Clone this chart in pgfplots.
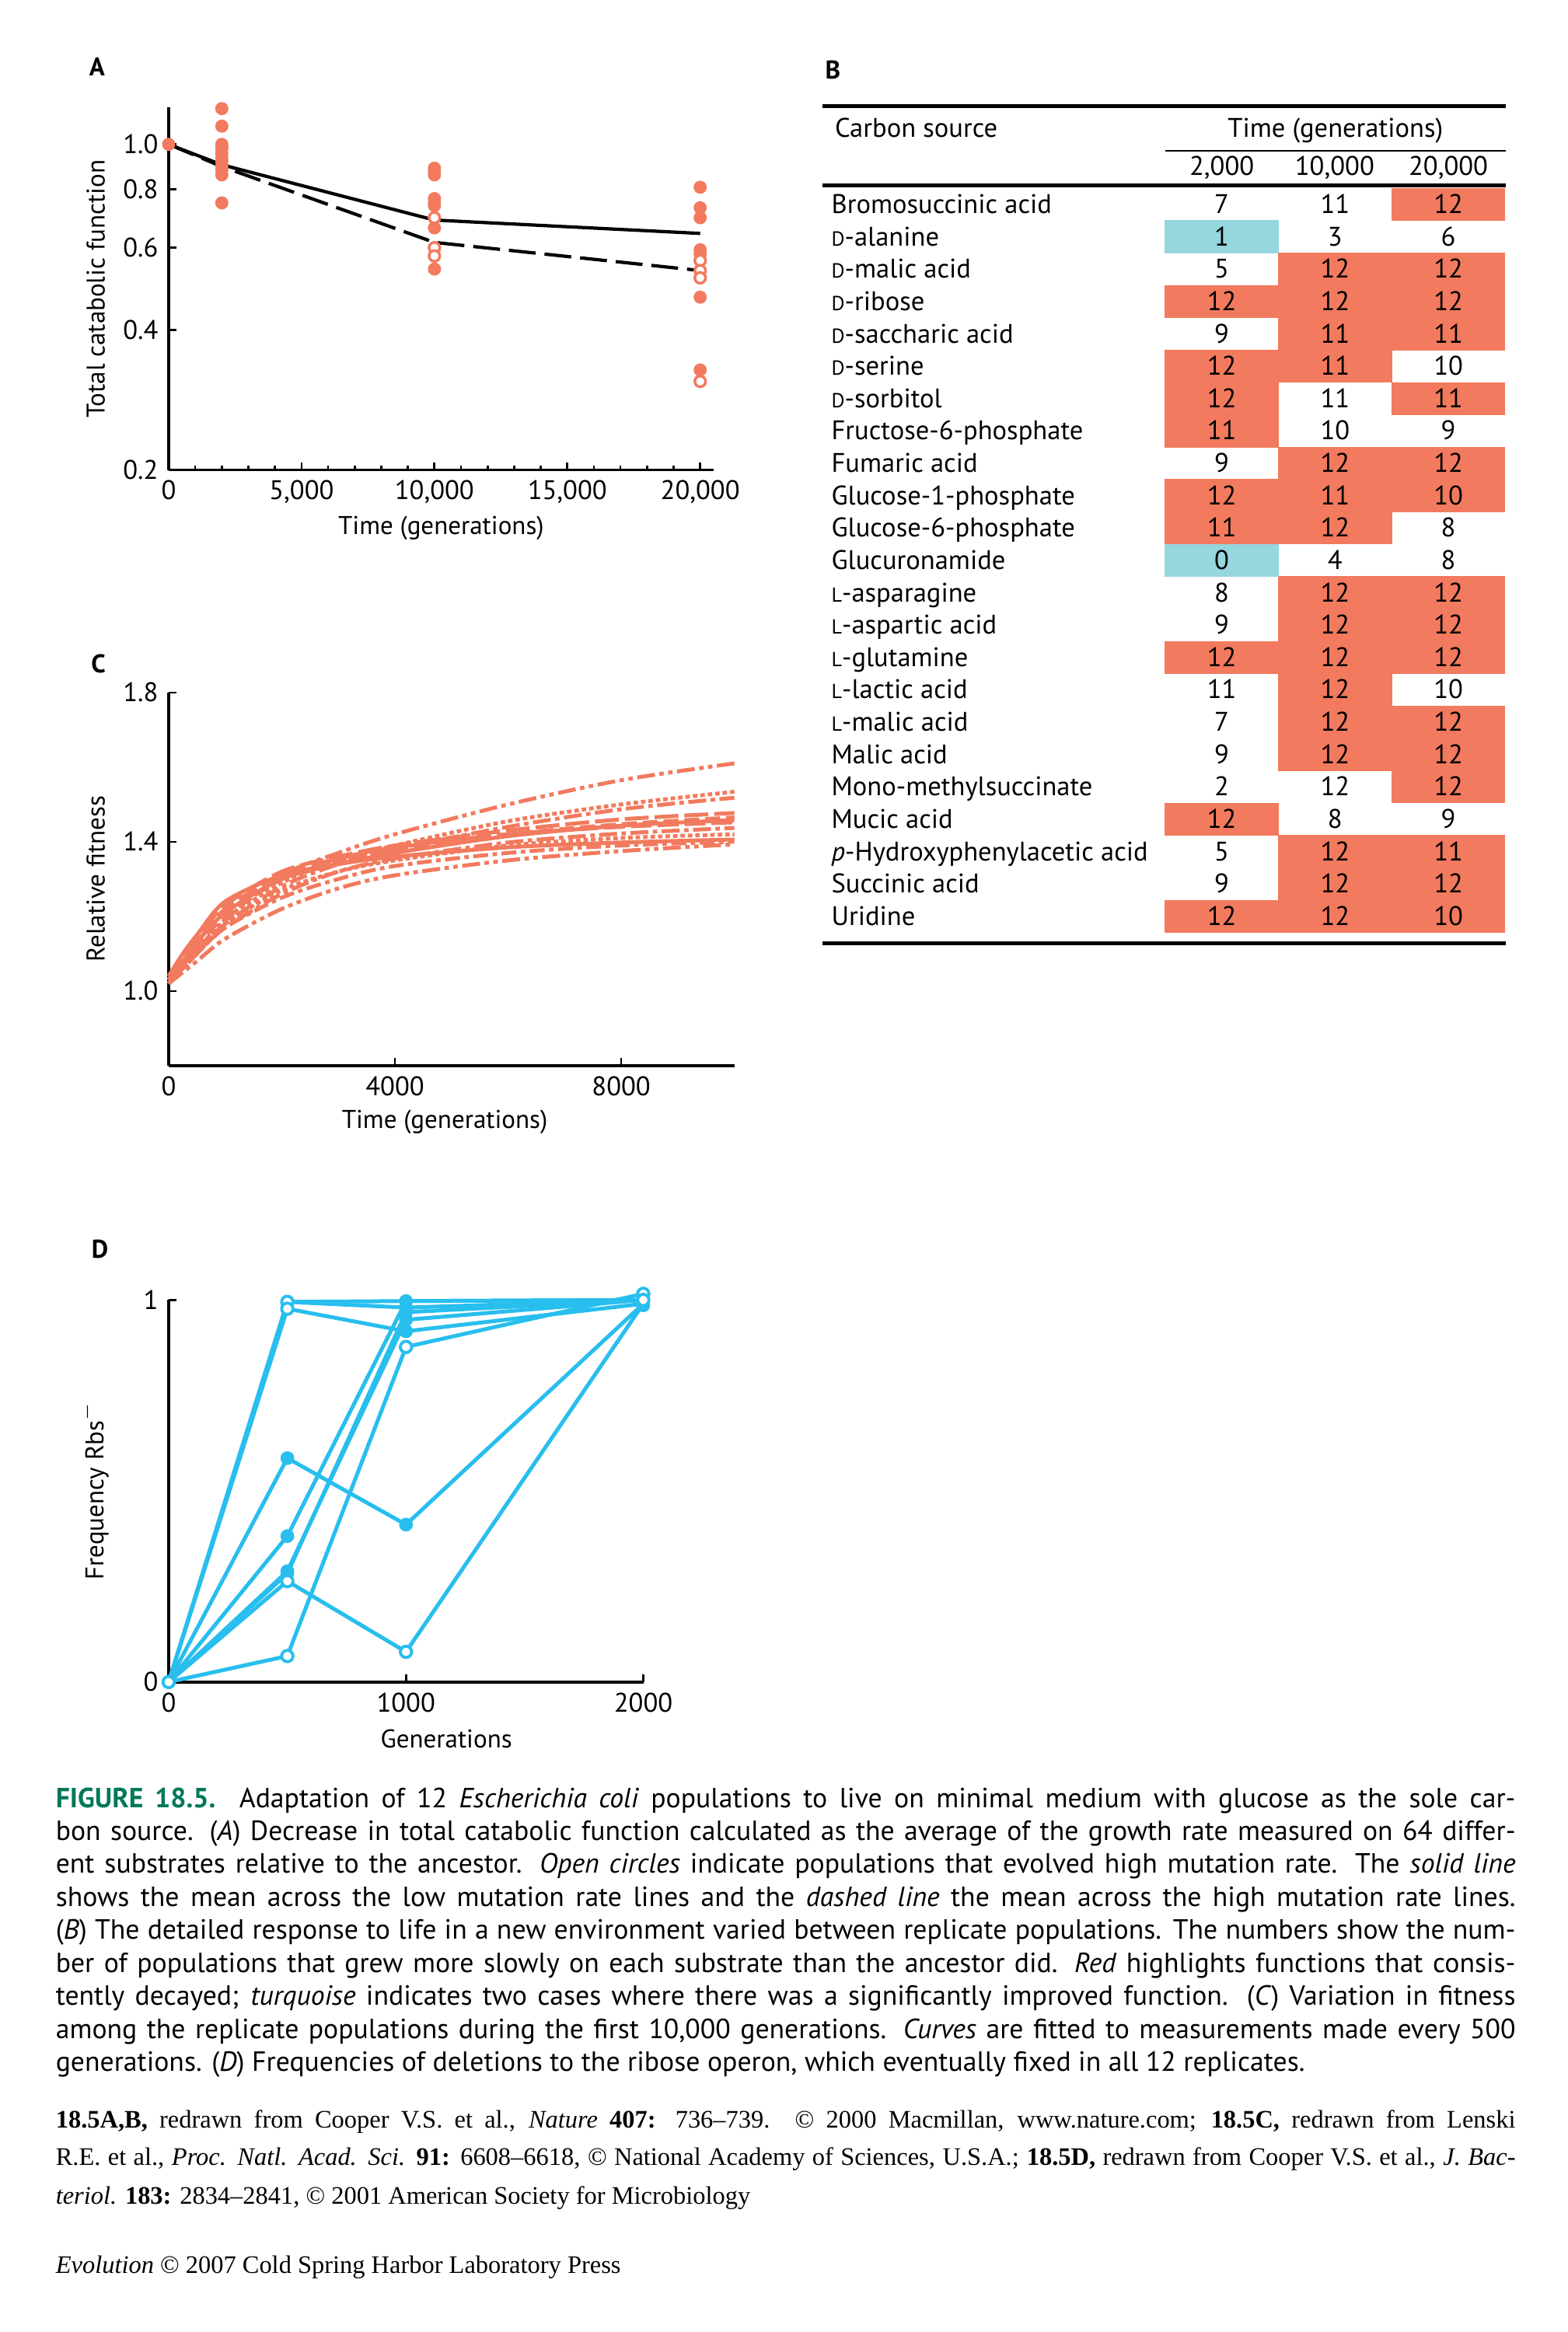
\documentclass[border=0pt]{standalone}
\usepackage{fontspec}
\setmainfont{PT Sans}
\newfontfamily\creditfont{Liberation Serif}
\usepackage{pgfplots}
\usepackage{pgfplotstable}
\pgfplotsset{compat=1.18}

\definecolor{salmon}{RGB}{242,122,94}
\definecolor{turq}{RGB}{150,214,222}
\definecolor{skyb}{RGB}{40,190,238}
\definecolor{figgreen}{RGB}{0,120,90}

\newcommand\tickfont{\fontsize{9}{10}\selectfont}
\newcommand\labfont{\fontsize{8.6}{10}\selectfont}
\newcommand\tabfont{\fontsize{9}{10}\selectfont}
\newcommand\capfont{\fontsize{9.3}{11}\selectfont}
\newcommand\credfont{\creditfont\fontsize{8.45}{10}\selectfont}
\newcommand\sD{{\fontsize{6.8}{8}\selectfont D}}
\newcommand\sL{{\fontsize{6.8}{8}\selectfont L}}

% one table cell = 75.75 x 21.68 units of the table axis
\pgfdeclareplotmark{cell}{%
  \pgfpathrectangle{\pgfpoint{-19.05pt}{-5.52pt}}{\pgfpoint{38.1pt}{11.04pt}}%
  \pgfusepathqfill}

\pgfplotsset{
  panel/.style={
    anchor=south west, scale only axis, clip=false,
    axis lines=left, axis line style={-, line width=0.9pt},
    tick align=inside, tick style={black, line width=0.7pt},
    major tick length=2.6pt, minor tick length=1.6pt,
    tick label style={font=\tickfont},
    label style={font=\labfont},
    scaled x ticks=false, scaled y ticks=false,
    /pgf/number format/assume math mode=true,
  },
  curveC/.style={salmon, line width=1.3pt, smooth, mark=none},
  lineD/.style={skyb, line width=1.3pt, mark=none},
}

% panel A, carbon use (12 populations)
% k: 0 = low mutation rate (filled), 1 = mutator (open)
\pgfplotstableread{
t v k
0 1.000 0
2000 1.193 0
2000 1.094 0
2000 1.000 0
2000 0.990 0
2000 0.980 0
2000 0.957 0
2000 0.935 0
2000 0.918 0
2000 0.896 0
2000 0.882 0
2000 0.860 0
2000 0.749 0
10000 0.889 0
10000 0.872 0
10000 0.860 0
10000 0.765 0
10000 0.750 0
10000 0.739 0
10000 0.662 0
10000 0.540 0
10000 0.696 1
10000 0.600 1
10000 0.576 1
20000 0.809 0
20000 0.731 0
20000 0.696 0
20000 0.594 0
20000 0.581 0
20000 0.470 0
20000 0.328 0
20000 0.563 1
20000 0.536 1
20000 0.517 1
20000 0.310 1
}\tblA

% panel B: r row, c column, v count, k 0 white / 1 red / 2 turquoise
\pgfplotstableread{
r c v k
1 0 7 0
1 1 11 0
1 2 12 1
2 0 1 2
2 1 3 0
2 2 6 0
3 0 5 0
3 1 12 1
3 2 12 1
4 0 12 1
4 1 12 1
4 2 12 1
5 0 9 0
5 1 11 1
5 2 11 1
6 0 12 1
6 1 11 1
6 2 10 0
7 0 12 1
7 1 11 0
7 2 11 1
8 0 11 1
8 1 10 0
8 2 9 0
9 0 9 0
9 1 12 1
9 2 12 1
10 0 12 1
10 1 11 1
10 2 10 1
11 0 11 1
11 1 12 1
11 2 8 0
12 0 0 2
12 1 4 0
12 2 8 0
13 0 8 0
13 1 12 1
13 2 12 1
14 0 9 0
14 1 12 1
14 2 12 1
15 0 12 1
15 1 12 1
15 2 12 1
16 0 11 0
16 1 12 1
16 2 10 0
17 0 7 0
17 1 12 1
17 2 12 1
18 0 9 0
18 1 12 1
18 2 12 1
19 0 2 0
19 1 12 0
19 2 12 1
20 0 12 1
20 1 8 0
20 2 9 0
21 0 5 0
21 1 12 1
21 2 11 1
22 0 9 0
22 1 12 1
22 2 12 1
23 0 12 1
23 1 12 1
23 2 10 1
}\tblB

% panel C, fitted fitness trajectories
\pgfplotstableread{
t c1 c2 c3 c4 c5 c6 c7 c8 c9 c10 c11 c12
0 1.03 1.02 1.03 1.03 1.02 1.03 1.02 1.04 1.02 1.02 1.03 1.02
250 1.07 1.07 1.07 1.09 1.07 1.08 1.06 1.10 1.06 1.05 1.08 1.06
500 1.11 1.11 1.11 1.14 1.12 1.13 1.10 1.15 1.10 1.08 1.13 1.10
1000 1.19 1.19 1.18 1.23 1.20 1.21 1.17 1.24 1.17 1.14 1.22 1.18
2000 1.31 1.29 1.28 1.32 1.30 1.30 1.26 1.31 1.25 1.22 1.31 1.27
3000 1.37 1.35 1.34 1.36 1.35 1.34 1.32 1.34 1.30 1.275 1.355 1.32
4000 1.42 1.39 1.38 1.39 1.38 1.37 1.355 1.36 1.335 1.31 1.385 1.35
6000 1.50 1.455 1.44 1.43 1.42 1.415 1.398 1.385 1.37 1.35 1.42 1.39
8000 1.565 1.50 1.487 1.46 1.447 1.443 1.422 1.398 1.39 1.375 1.44 1.41
10000 1.61 1.534 1.518 1.477 1.465 1.458 1.437 1.406 1.40 1.393 1.452 1.42
}\tblC

\begin{document}
\begin{tikzpicture}
\path[use as bounding box] (0,0) rectangle (525pt,781.25pt);

% ---------------- A ----------------
\node[font=\fontsize{8.6}{10}\selectfont\bfseries] at (32.5pt,758.75pt) {A};
\begin{axis}[panel,
  at={(56.5pt,623.75pt)}, width=182.5pt, height=121.5pt,
  xmin=0, xmax=20500, ymin=0.2, ymax=1.2, ymode=log,
  xtick={0,5000,10000,15000,20000},
  xticklabels={0,{5,000},{10,000},{15,000},{20,000}},
  minor x tick num=4,
  ytick={0.2,0.4,0.6,0.8,1.0}, yticklabels={0.2,0.4,0.6,0.8,1.0},
  yminorticks=false,
  xlabel={Time (generations)}, ylabel={Total catabolic function},
  xlabel style={at={(axis description cs:0.5,0)}, anchor=center, yshift=-19.5pt},
  ylabel style={at={(axis description cs:-0.134,0.5)}, anchor=center},
]
\addplot[black, line width=1.1pt] coordinates {(0,1) (2000,0.904) (10000,0.688) (20000,0.644)};
\addplot[black, line width=1.1pt, dash pattern=on 9pt off 3pt]
  coordinates {(0,1) (2000,0.896) (10000,0.616) (20000,0.536)};
\addplot[only marks, mark=*, mark size=2pt, salmon,
  restrict expr to domain={\thisrow{k}}{0:0}] table[x=t, y=v] \tblA;
\addplot[only marks, mark=*, mark size=1.8pt, mark options={draw=salmon, fill=white, line width=0.9pt},
  restrict expr to domain={\thisrow{k}}{1:1}] table[x=t, y=v] \tblA;
\end{axis}

% ---------------- B ----------------
\node[font=\fontsize{8.6}{10}\selectfont\bfseries] at (279pt,757.75pt) {B};
\begin{axis}[
  anchor=south west, scale only axis, clip=false,
  at={(275.5pt,465.25pt)}, width=228.5pt, height=280.5pt,
  xmin=551, xmax=1008, ymin=71, ymax=632, y dir=reverse,
  axis line style={draw=none}, tick style={draw=none},
  xtick=\empty,
  ytick={137,158.68,180.36,202.04,223.72,245.40,267.08,288.76,310.44,332.12,353.80,375.48,
    397.16,418.84,440.52,462.20,483.88,505.56,527.24,548.92,570.60,592.28,613.96},
  yticklabels={Bromosuccinic acid, \sD-alanine, \sD-malic acid, \sD-ribose,
    \sD-saccharic acid, \sD-serine, \sD-sorbitol, Fructose-6-phosphate, Fumaric acid,
    Glucose-1-phosphate, Glucose-6-phosphate, Glucuronamide, \sL-asparagine,
    \sL-aspartic acid, \sL-glutamine, \sL-lactic acid, \sL-malic acid, Malic acid,
    Mono-methylsuccinate, Mucic acid, \textit{p}-Hydroxyphenylacetic acid,
    Succinic acid, Uridine},
  yticklabel style={anchor=base west, xshift=-0.5pt, yshift=-3pt, font=\tabfont},
]
\addplot[only marks, mark=cell, color=salmon, restrict expr to domain={\thisrow{k}}{1:1}]
  table[x expr={818+75.75*\thisrow{c}}, y expr={137+21.68*(\thisrow{r}-1)}] \tblB;
\addplot[only marks, mark=cell, color=turq, restrict expr to domain={\thisrow{k}}{2:2}]
  table[x expr={818+75.75*\thisrow{c}}, y expr={137+21.68*(\thisrow{r}-1)}] \tblB;
\addplot[only marks, mark=none, nodes near coords, point meta=explicit symbolic,
  every node near coord/.append style={anchor=base, yshift=-3pt, inner sep=0pt, font=\tabfont, text=black}]
  table[x expr={818+75.75*\thisrow{c}}, y expr={137+21.68*(\thisrow{r}-1)}, meta=v] \tblB;
\draw[line width=1.3pt] (axis cs:551,71) -- (axis cs:1008,71);
\draw[line width=0.5pt] (axis cs:780,101) -- (axis cs:1008,101);
\draw[line width=1.3pt] (axis cs:551,124) -- (axis cs:1008,124);
\draw[line width=1.3pt] (axis cs:551,632) -- (axis cs:1008,632);
\node[font=\tabfont, anchor=base west, inner sep=0pt] at (axis cs:559,92) {Carbon source};
\node[font=\tabfont, anchor=base, inner sep=0pt] at (axis cs:894,92) {Time (generations)};
\node[font=\tabfont, anchor=base, inner sep=0pt] at (axis cs:818,117.5) {2,000};
\node[font=\tabfont, anchor=base, inner sep=0pt] at (axis cs:893.5,117.5) {10,000};
\node[font=\tabfont, anchor=base, inner sep=0pt] at (axis cs:969.5,117.5) {20,000};
\end{axis}

% ---------------- C ----------------
\node[font=\fontsize{8.6}{10}\selectfont\bfseries] at (33pt,558.75pt) {C};
\begin{axis}[panel,
  at={(56.5pt,424.25pt)}, width=189.5pt, height=125pt,
  xmin=0, xmax=10000, ymin=0.8, ymax=1.8,
  xtick={0,4000,8000}, xticklabels={0,4000,8000},
  ytick={1.0,1.4,1.8}, yticklabels={1.0,1.4,1.8},
  xlabel={Time (generations)}, ylabel={Relative fitness},
  xlabel style={at={(axis description cs:0.488,0)}, anchor=center, yshift=-19pt},
  ylabel style={at={(axis description cs:-0.129,0.5)}, anchor=center},
]
\addplot[curveC, dash pattern=on 6pt off 1.5pt on 1.5pt off 1.5pt on 1.5pt off 1.5pt] table[x=t, y=c1] \tblC;
\addplot[curveC, dash pattern=on 1.5pt off 1pt] table[x=t, y=c2] \tblC;
\addplot[curveC, dash pattern=on 6pt off 1.5pt on 1.5pt off 1.5pt] table[x=t, y=c3] \tblC;
\addplot[curveC, dash pattern=on 8pt off 2pt] table[x=t, y=c4] \tblC;
\addplot[curveC, dash pattern=on 5pt off 2pt] table[x=t, y=c5] \tblC;
\addplot[curveC] table[x=t, y=c6] \tblC;
\addplot[curveC, dash pattern=on 6pt off 1.5pt on 1.5pt off 1.5pt] table[x=t, y=c7] \tblC;
\addplot[curveC] table[x=t, y=c8] \tblC;
\addplot[curveC, dash pattern=on 5pt off 1.5pt on 1.5pt off 1.5pt] table[x=t, y=c9] \tblC;
\addplot[curveC, dash pattern=on 6pt off 1.5pt on 1.5pt off 1.5pt on 1.5pt off 1.5pt] table[x=t, y=c10] \tblC;
\addplot[curveC, dash pattern=on 7pt off 2pt] table[x=t, y=c11] \tblC;
\addplot[curveC, dash pattern=on 1.5pt off 1pt] table[x=t, y=c12] \tblC;
\end{axis}

% ---------------- D ----------------
\node[font=\fontsize{8.6}{10}\selectfont\bfseries] at (33.5pt,362.75pt) {D};
\begin{axis}[panel,
  at={(56.5pt,217.75pt)}, width=159pt, height=128pt,
  xmin=0, xmax=2000, ymin=0, ymax=1,
  xtick={0,1000,2000}, xticklabels={0,1000,2000},
  ytick={0,1}, yticklabels={0,1},
  xlabel={Generations}, ylabel={Frequency Rbs$^{-}$},
  xlabel style={at={(axis description cs:0.585,0)}, anchor=center, yshift=-19pt},
  ylabel style={at={(axis description cs:-0.156,0.5)}, anchor=center},
]
\addplot[lineD] coordinates {(0,0) (500,0.995) (1000,0.997) (2000,1.0)};
\addplot[lineD] coordinates {(0,0) (500,0.977) (1000,0.918) (2000,0.99)};
\addplot[lineD] coordinates {(0,0) (500,0.995) (1000,0.98) (2000,1.0)};
\addplot[lineD] coordinates {(0,0) (500,0.586) (1000,0.412) (2000,0.99)};
\addplot[lineD] coordinates {(0,0) (500,0.382) (1000,0.997) (2000,1.0)};
\addplot[lineD] coordinates {(0,0) (500,0.284) (1000,0.968) (2000,1.0)};
\addplot[lineD] coordinates {(0,0) (500,0.29) (1000,0.948) (2000,1.0)};
\addplot[lineD] coordinates {(0,0) (500,0.264) (1000,0.079) (2000,0.99)};
\addplot[lineD] coordinates {(0,0) (500,0.068) (1000,0.877) (2000,1.016)};
\addplot[only marks, skyb, mark=*, mark size=2.1pt]
  coordinates {(500,0.586) (500,0.382) (500,0.284) (500,0.29) (1000,0.997) (1000,0.98)
    (1000,0.968) (1000,0.948) (1000,0.918) (1000,0.412) (2000,0.986)};
\addplot[only marks, mark=*, mark size=1.9pt, mark options={draw=skyb, fill=white, line width=1pt}]
  coordinates {(0,0) (500,0.995) (500,0.977) (500,0.264) (500,0.068) (1000,0.877)
    (1000,0.079) (2000,1.016) (2000,1.0)};
\end{axis}

% ---------------- caption ----------------
\begin{scope}[every node/.style={anchor=base west, inner sep=0pt, font=\capfont}]
\node at (18.5pt,175.75pt) {\makebox[489pt][s]{{\color{figgreen}\bfseries FIGURE 18.5.} Adaptation of 12 \textit{Escherichia coli} populations to live on minimal medium with glucose as the sole car-}};
\node at (18.5pt,164.70pt) {\makebox[489pt][s]{bon source. (\textit{A}) Decrease in total catabolic function calculated as the average of the growth rate measured on 64 differ-}};
\node at (18.5pt,153.65pt) {\makebox[489pt][s]{ent substrates relative to the ancestor. \textit{Open circles} indicate populations that evolved high mutation rate. The \textit{solid line}}};
\node at (18.5pt,142.60pt) {\makebox[489pt][s]{shows the mean across the low mutation rate lines and the \textit{dashed line} the mean across the high mutation rate lines.}};
\node at (18.5pt,131.55pt) {\makebox[489pt][s]{(\textit{B}) The detailed response to life in a new environment varied between replicate populations. The numbers show the num-}};
\node at (18.5pt,120.50pt) {\makebox[489pt][s]{ber of populations that grew more slowly on each substrate than the ancestor did. \textit{Red} highlights functions that consis-}};
\node at (18.5pt,109.45pt) {\makebox[489pt][s]{tently decayed; \textit{turquoise} indicates two cases where there was a significantly improved function. (\textit{C}) Variation in fitness}};
\node at (18.5pt,98.40pt) {\makebox[489pt][s]{among the replicate populations during the first 10,000 generations. \textit{Curves} are fitted to measurements made every 500}};
\node at (18.5pt,87.35pt) {generations. (\textit{D}) Frequencies of deletions to the ribose operon, which eventually fixed in all 12 replicates.};
\end{scope}

\begin{scope}[every node/.style={anchor=base west, inner sep=0pt, font=\credfont}]
\node at (18.5pt,68.25pt) {\makebox[489pt][s]{\textbf{18.5A,B,} redrawn from Cooper V.S. et al., \textit{Nature} \textbf{407:} 736–739. © 2000 Macmillan, www.nature.com; \textbf{18.5C,} redrawn from Lenski}};
\node at (18.5pt,55.75pt) {\makebox[489pt][s]{R.E. et al., \textit{Proc. Natl. Acad. Sci.} \textbf{91:} 6608–6618, © National Academy of Sciences, U.S.A.; \textbf{18.5D,} redrawn from Cooper V.S. et al., \textit{J. Bac-}}};
\node at (18.5pt,42.75pt) {\textit{teriol.} \textbf{183:} 2834–2841, © 2001 American Society for Microbiology};
\node at (18.5pt,19.75pt) {\textit{Evolution} © 2007 Cold Spring Harbor Laboratory Press};
\end{scope}
\end{tikzpicture}
\end{document}
